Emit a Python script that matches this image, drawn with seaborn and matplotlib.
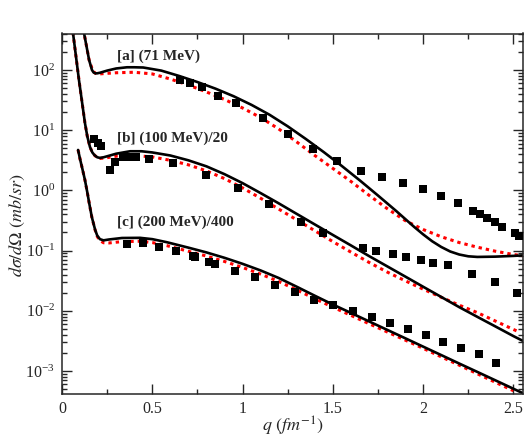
import matplotlib
matplotlib.use("Agg")
import matplotlib.pyplot as plt
import matplotlib.ticker as mticker
import seaborn as sns

# ---- values ----
# [a] 71 MeV
qa_exp = [0.653, 0.709, 0.775, 0.864, 0.963, 1.113, 1.251, 1.390, 1.523, 1.656, 1.772,
          1.888, 1.999, 2.099, 2.193, 2.276, 2.315, 2.353, 2.398, 2.436, 2.508, 2.530]
ya_exp = [68.2, 60.8, 52.2, 37.0, 28.3, 16.0, 8.65, 4.88, 3.08, 2.10, 1.67,
          1.33, 1.05, 0.81, 0.62, 0.455, 0.405, 0.348, 0.30, 0.247, 0.196, 0.175]

qa_solid = [0.110, 0.122, 0.150, 0.166, 0.175, 0.185, 0.194, 0.210, 0.250, 0.300, 0.360, 0.400,
            0.450, 0.550, 0.650, 0.750, 0.850, 0.950, 1.050, 1.150, 1.250, 1.350, 1.450,
            1.550, 1.650, 1.750, 1.850, 1.950, 2.000, 2.050, 2.100, 2.150, 2.200, 2.250,
            2.300, 2.400, 2.500, 2.550]
ya_solid = [630, 410, 147, 100, 91, 88, 88, 90, 97.7, 106, 111, 111,
            110, 97.7, 79.4, 63.1, 49.0, 36.7, 26.3, 18.0, 11.6, 7.16, 4.32,
            2.54, 1.46, 0.822, 0.457, 0.248, 0.186, 0.143, 0.115, 0.0966, 0.0861, 0.0804,
            0.0785, 0.0794, 0.0817, 0.0832]

qa_dot = [0.110, 0.122, 0.150, 0.170, 0.185, 0.205, 0.250, 0.300, 0.400, 0.500, 0.600, 0.700,
          0.800, 0.900, 1.000, 1.100, 1.200, 1.300, 1.400, 1.500, 1.600, 1.700, 1.800,
          1.900, 2.000, 2.100, 2.200, 2.300, 2.400, 2.500, 2.550]
ya_dot = [630, 410, 147, 98, 88, 86, 88, 90, 91.8, 86.1, 70.8, 56.2,
          43.2, 32.4, 23.4, 16.2, 10.5, 6.38, 3.80, 2.32, 1.41, 0.832, 0.501,
          0.316, 0.224, 0.170, 0.136, 0.114, 0.0977, 0.0861, 0.0822]

# [b] 100 MeV, divided by 20
qb_exp = [0.177, 0.199, 0.216, 0.266, 0.293, 0.338, 0.377, 0.410, 0.482, 0.615, 0.797, 0.975,
          1.146, 1.323, 1.445, 1.667, 1.739, 1.833, 1.905, 1.988, 2.054, 2.137, 2.270, 2.398, 2.519]
yb_exp = [7.14, 6.13, 5.47, 2.18, 2.97, 3.59, 3.59, 3.59, 3.33, 2.85, 1.80, 1.10,
          0.594, 0.299, 0.196, 0.110, 0.098, 0.088, 0.078, 0.070, 0.062, 0.058, 0.041, 0.030, 0.0198]

qb_solid = [0.055, 0.061, 0.094, 0.127, 0.140, 0.155, 0.168, 0.180, 0.195, 0.210, 0.230, 0.260,
            0.300, 0.377, 0.440, 0.500, 0.600, 0.700, 0.800, 0.900, 1.000, 1.100, 1.200,
            1.300, 1.400, 1.500, 1.600, 1.700, 1.800, 1.900, 2.000, 2.100, 2.200, 2.300,
            2.400, 2.500, 2.553]
yb_solid = [560, 410, 68, 13.2, 7.94, 5.25, 4.27, 3.85, 3.55, 3.47, 3.55, 3.76,
            4.07, 4.47, 4.47, 4.27, 3.80, 3.16, 2.51, 1.86, 1.32, 0.902, 0.610,
            0.407, 0.272, 0.182, 0.122, 0.0813, 0.0550, 0.0372, 0.0251, 0.0170, 0.0115, 0.00794,
            0.00550, 0.00380, 0.00316]

qb_dot = [0.055, 0.061, 0.094, 0.127, 0.140, 0.155, 0.168, 0.180, 0.195, 0.210, 0.250, 0.305,
          0.400, 0.500, 0.600, 0.700, 0.800, 0.900, 1.000, 1.100, 1.200, 1.300, 1.400,
          1.500, 1.600, 1.700, 1.800, 1.900, 2.000, 2.100, 2.200, 2.300, 2.400, 2.500, 2.530]
yb_dot = [560, 410, 68, 13.2, 7.94, 5.25, 4.27, 3.85, 3.50, 3.39, 3.50, 3.72,
          3.80, 3.60, 3.16, 2.66, 2.11, 1.57, 1.10, 0.741, 0.490, 0.324, 0.214,
          0.141, 0.0944, 0.0638, 0.0442, 0.0316, 0.0229, 0.0168, 0.0124, 0.00933, 0.00676,
          0.00490, 0.00447]

# [c] 200 MeV, divided by 400
qc_exp = [0.360, 0.449, 0.537, 0.631, 0.725, 0.736, 0.814, 0.847, 0.958, 1.069, 1.179, 1.290,
          1.395, 1.501, 1.611, 1.717, 1.816, 1.916, 2.015, 2.110, 2.209, 2.309, 2.403]
yc_exp = [0.129, 0.134, 0.115, 0.098, 0.081, 0.078, 0.065, 0.060, 0.046, 0.0364, 0.0268, 0.0205,
          0.0151, 0.0125, 0.0099, 0.0079, 0.0063, 0.0050, 0.0040, 0.0030, 0.0024, 0.0019, 0.00136]

qc_solid = [0.089, 0.100, 0.115, 0.127, 0.140, 0.150, 0.165, 0.183, 0.195, 0.210, 0.230, 0.260,
            0.332, 0.432, 0.500, 0.580, 0.700, 0.800, 0.900, 1.000, 1.100, 1.200, 1.300,
            1.400, 1.500, 1.600, 1.700, 1.800, 1.900, 2.000, 2.100, 2.200, 2.300, 2.400,
            2.500, 2.550]
yc_solid = [4.70, 3.31, 2.14, 1.49, 0.933, 0.631, 0.363, 0.224, 0.178, 0.155, 0.148, 0.153,
            0.162, 0.163, 0.155, 0.138, 0.112, 0.0933, 0.0759, 0.0603, 0.0468, 0.0351, 0.0251,
            0.0178, 0.0127, 0.00923, 0.00668, 0.00484, 0.00351, 0.00254, 0.00184, 0.00133,
            0.000966, 0.000700, 0.000507, 0.000431]

qc_dot = [0.089, 0.100, 0.115, 0.127, 0.140, 0.150, 0.165, 0.183, 0.195, 0.210, 0.230, 0.260,
          0.332, 0.432, 0.500, 0.580, 0.700, 0.800, 0.900, 1.000, 1.100, 1.200, 1.300,
          1.400, 1.500, 1.600, 1.700, 1.800, 1.900, 2.000, 2.100, 2.200, 2.300, 2.400, 2.500]
yc_dot = [4.70, 3.31, 2.14, 1.49, 0.933, 0.631, 0.363, 0.222, 0.172, 0.147, 0.135, 0.134,
          0.141, 0.143, 0.136, 0.121, 0.0975, 0.0812, 0.066, 0.0525, 0.0407, 0.0307, 0.0222,
          0.0159, 0.0115, 0.00840, 0.00612, 0.00447, 0.00327, 0.00238, 0.00172, 0.00125,
          0.00090, 0.00065, 0.00047]

panel_labels = ["[a] (71 MeV)", "[b] (100 MeV)/20", "[c] (200 MeV)/400"]
label_q = [0.305, 0.305, 0.305]
label_y = [171, 7.4, 0.30]

curves = [
    (qa_dot, ya_dot, qa_solid, ya_solid, qa_exp, ya_exp),
    (qb_dot, yb_dot, qb_solid, yb_solid, qb_exp, yb_exp),
    (qc_dot, yc_dot, qc_solid, yc_solid, qc_exp, yc_exp),
]

sns.set_style("ticks")
plt.rcParams["font.family"] = ["Liberation Serif", "DejaVu Serif"]
plt.rcParams["mathtext.fontset"] = "stix"
plt.rcParams["axes.linewidth"] = 1.1

fig = plt.figure(figsize=(5.31, 4.43), dpi=100)
ax = fig.add_axes([62 / 531, 1 - 394 / 443, (523 - 62) / 531, (394 - 33.5) / 443])

for q_dot, y_dot, q_sol, y_sol, q_exp, y_exp in curves:
    sns.lineplot(x=q_dot, y=y_dot, ax=ax, sort=False, estimator=None,
                 color="#ff0000", linewidth=2.2, linestyle=(0, (1.1, 1.3)))
    sns.lineplot(x=q_sol, y=y_sol, ax=ax, sort=False, estimator=None,
                 color="black", linewidth=1.9)
    sns.scatterplot(x=q_exp, y=y_exp, ax=ax, marker="s", s=30,
                    color="black", linewidth=0, zorder=3)

for txt, xq, yv in zip(panel_labels, label_q, label_y):
    ax.text(xq, yv, txt, fontsize=11, fontweight="bold", va="center", ha="left")

ax.set_yscale("log")
ax.set_xlim(0, 2.553)
ax.set_ylim(4.15e-4, 404)

ax.xaxis.set_major_locator(mticker.MultipleLocator(0.5))
ax.xaxis.set_minor_locator(mticker.MultipleLocator(0.25))
ax.xaxis.set_major_formatter(mticker.FuncFormatter(lambda v, p: f"{v:g}"))
ax.yaxis.set_major_locator(mticker.LogLocator(base=10, numticks=20))
ax.yaxis.set_minor_locator(mticker.LogLocator(base=10, subs=range(2, 10), numticks=20))
ax.yaxis.set_minor_formatter(mticker.NullFormatter())

ax.tick_params(which="both", direction="in", top=True, right=True, labelsize=11.5, width=1)
ax.tick_params(which="major", length=7, pad=5)
ax.tick_params(which="minor", length=3.5)

ax.set_xlabel(r"$q\ (fm^{-1})$", fontsize=13)
ax.set_ylabel(r"$d\sigma/d\Omega\ (mb/sr)$", fontsize=13)
ax.xaxis.set_label_coords(0.5, -0.058)
ax.yaxis.set_label_coords(-0.075, 0.47)

fig.savefig("out.png", dpi=100)
